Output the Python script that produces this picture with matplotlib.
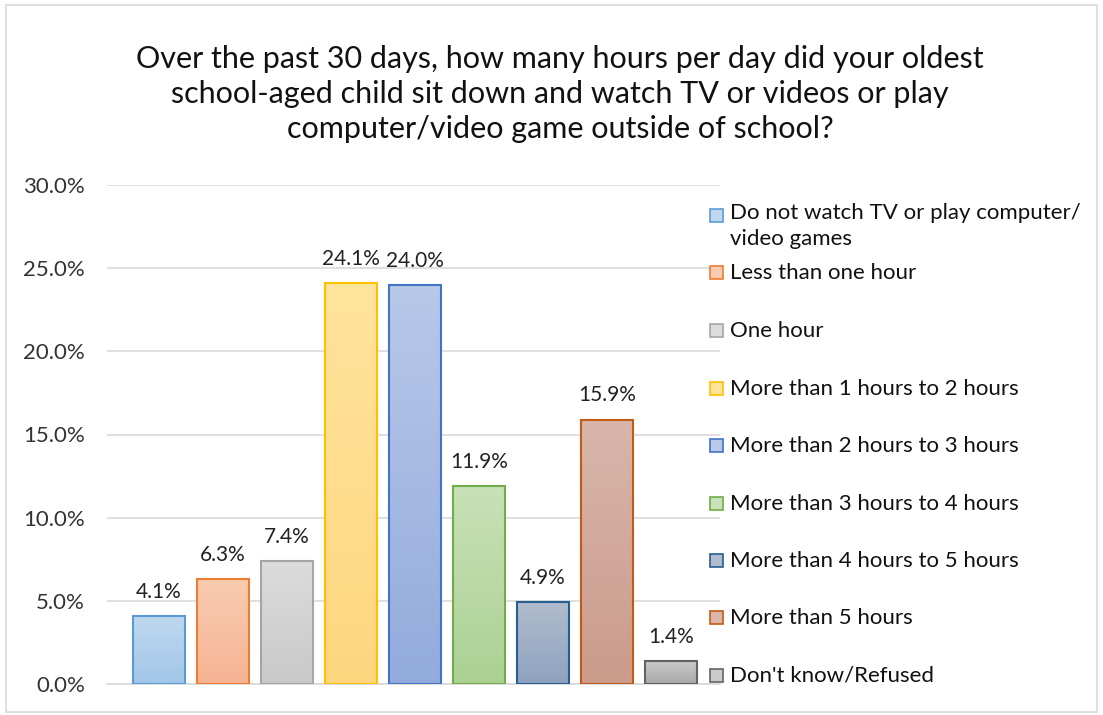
import numpy as np
import matplotlib.pyplot as plt
from matplotlib.colors import LinearSegmentedColormap
from matplotlib.patches import Rectangle

plt.rcParams['font.family'] = ['Lato', 'DejaVu Sans']

# data
labels = ["Do not watch TV or play computer/\nvideo games", "Less than one hour", "One hour",
          "More than 1 hours to 2 hours", "More than 2 hours to 3 hours",
          "More than 3 hours to 4 hours", "More than 4 hours to 5 hours",
          "More than 5 hours", "Don't know/Refused"]
values = [4.1, 6.3, 7.4, 24.1, 24.0, 11.9, 4.9, 15.9, 1.4]
yticks = [0, 5, 10, 15, 20, 25, 30]

# top colour, bottom colour, edge colour
tops = ['#BFD8EF', '#F9CBB0', '#DCDCDC', '#FFE49C', '#B7C8E8', '#C8E1B8', '#B0BCCD', '#D8B6AB', '#CBCBCB']
bots = ['#A3C6E8', '#F6B494', '#C9C9C9', '#FED680', '#93ABDD', '#ABD193', '#8EA2C0', '#CB9B8B', '#A8A8A8']
edges = ['#5B9BD5', '#ED7D31', '#A5A5A5', '#FFC000', '#4472C4', '#70AD47', '#255E91', '#C55A11', '#636363']

fig = plt.figure(figsize=(11.03, 7.15), dpi=100)
ax = fig.add_axes([107/1103, 1-684/715, (720-107)/1103, (684-185)/715])

x = np.arange(len(values))
w = 0.8125
bars = ax.bar(x, values, width=w, color='none', edgecolor=edges, linewidth=1.5, zorder=3)
grad = np.linspace(0, 1, 100).reshape(-1, 1)
for i, b in enumerate(bars):
    cm = LinearSegmentedColormap.from_list('g%d' % i, [bots[i], tops[i]])
    im = ax.imshow(grad, cmap=cm, origin='lower', aspect='auto', zorder=2,
                   extent=[b.get_x(), b.get_x()+w, 0, b.get_height()])
    im.set_clip_path(b)
    ax.text(x[i], values[i] + 0.85, '%.1f%%' % values[i], ha='center', va='bottom',
            fontsize=15, color='#222222')

ax.set_xlim((107-159)/64, (720-159)/64)
ax.set_ylim(0, 30)
ax.set_yticks(yticks)
ax.set_yticklabels(['%.1f%%' % t for t in yticks], fontsize=16, color='#333333')
ax.set_xticks([])
ax.tick_params(axis='y', length=0, pad=16)
ax.grid(axis='y', color='#D9D9D9', linewidth=1.2, zorder=0)
for s in ax.spines.values():
    s.set_visible(False)
ax.spines['bottom'].set_visible(True)
ax.spines['bottom'].set_color('#D9D9D9')
ax.spines['bottom'].set_linewidth(1.2)

# title
title = ("Over the past 30 days, how many hours per day did your oldest\n"
         "school-aged child sit down and watch TV or videos or play\n"
         "computer/video game outside of school?")
fig.text(560/1103, 1-94/715, title, ha='center', va='center', fontsize=22,
         linespacing=1.3, color='#111111')

# legend
ys = [216, 273, 331, 389, 446, 504, 561, 618, 676]
for i, lab in enumerate(labels):
    y = ys[i]
    fig.patches.append(Rectangle((710/1103, 1-(y+6)/715), 13/1103, 13/715,
                                 transform=fig.transFigure, facecolor=tops[i],
                                 edgecolor=edges[i], linewidth=1.2))
    if '\n' in lab:
        fig.text(730/1103, 1-(y-13)/715, lab, ha='left', va='top',
                 fontsize=16, color='#111111', linespacing=1.35)
    else:
        fig.text(730/1103, 1-y/715, lab, ha='left', va='center',
                 fontsize=16, color='#111111')

fig.patches.append(Rectangle((6/1103, 1-712/715), 1091/1103, 707/715,
                             transform=fig.transFigure, facecolor='none',
                             edgecolor='#D9D9D9', linewidth=1.2))

fig.savefig('out.png', dpi=100)
